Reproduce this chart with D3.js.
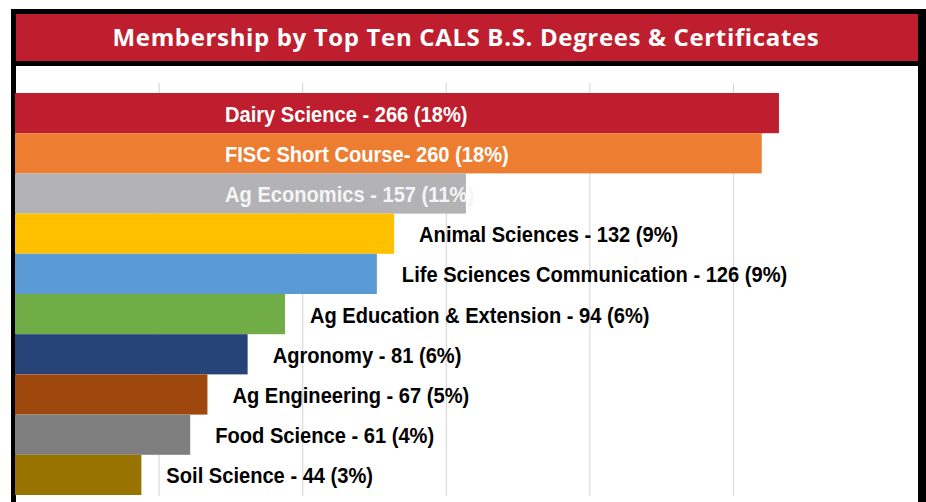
<!DOCTYPE html>
<html><head><meta charset="utf-8">
<script src="https://cdn.jsdelivr.net/npm/d3@7"></script>
<style>html,body{margin:0;padding:0;background:#fff;}svg{display:block;}</style>
</head><body>
<svg id="chart" width="926" height="502"></svg>
<script>
const titleText = "Membership by Top Ten CALS B.S. Degrees & Certificates";
const categories = ["Dairy Science", "FISC Short Course", "Ag Economics", "Animal Sciences", "Life Sciences Communication", "Ag Education & Extension", "Agronomy", "Ag Engineering", "Food Science", "Soil Science"];
const values = [266, 260, 157, 132, 126, 94, 81, 67, 61, 44];
const percents = ["18%", "18%", "11%", "9%", "9%", "6%", "6%", "5%", "4%", "3%"];
const separators = [" - ", "- ", " - ", " - ", " - ", " - ", " - ", " - ", " - ", " - "];
const colors = ["#BE1E2D", "#ED7D31", "#B3B3B5", "#FFC000", "#5B9BD5", "#70AD47", "#264478", "#9E480E", "#7F7F7F", "#997300"];
const labelInside = [true, true, true, false, false, false, false, false, false, false];
const labelColors = ["#ffffff", "#ffffff", "#F5F5F5", "#000", "#000", "#000", "#000", "#000", "#000", "#000"];
const gridTicks = [50, 100, 150, 200, 250];

const svg = d3.select("#chart");
// outer frame
svg.append("rect").attr("x", 11).attr("y", 9).attr("width", 915).attr("height", 493).attr("fill", "#000");
svg.append("rect").attr("x", 16).attr("y", 14).attr("width", 902).attr("height", 47).attr("fill", "#BE1E2D");
svg.append("rect").attr("x", 16).attr("y", 66).attr("width", 902).attr("height", 436).attr("fill", "#fff");
svg.append("text").attr("x", 466).attr("y", 46).attr("text-anchor", "middle")
  .attr("font-family", "'Open Sans', sans-serif").attr("font-weight", 700).attr("font-size", 24)
  .attr("letter-spacing", 0.65)
  .attr("fill", "#fff").text(titleText);

const x = d3.scaleLinear().domain([0, 300]).range([15, 15 + 300 * 2.872]);
const y = d3.scaleBand().domain(categories).range([93, 495]).padding(0);

// gridlines
svg.append("g").attr("transform", "translate(0,496)")
  .call(d3.axisBottom(x).tickValues(gridTicks).tickSize(-413).tickFormat(""))
  .call(g => g.select(".domain").remove())
  .call(g => g.selectAll("line").attr("stroke", "#D9D9D9").attr("stroke-width", 1.2));

svg.append("g").selectAll("rect").data(categories).join("rect")
  .attr("x", x(0)).attr("y", d => y(d)).attr("height", y.bandwidth())
  .attr("width", (d, i) => x(values[i]) - x(0)).attr("fill", (d, i) => colors[i]);

const labels = svg.append("g").selectAll("text").data(categories).join("text")
  .attr("x", (d, i) => labelInside[i] ? 225 : x(values[i]) + 25)
  .attr("y", d => y(d) + y.bandwidth() / 2 + 1)
  .attr("dy", "0.35em")
  .attr("font-family", "'Liberation Sans', Arial, sans-serif")
  .attr("font-weight", 700).attr("font-size", 21.5)
  .attr("fill", (d, i) => labelColors[i])
  .text((d, i) => d + separators[i] + values[i] + " (" + percents[i] + ")");
// condense glyphs to mimic the narrow label face
labels.each(function () {
  const w = this.getComputedTextLength();
  d3.select(this).attr("textLength", w * 0.935).attr("lengthAdjust", "spacingAndGlyphs");
});
</script>
</body></html>
